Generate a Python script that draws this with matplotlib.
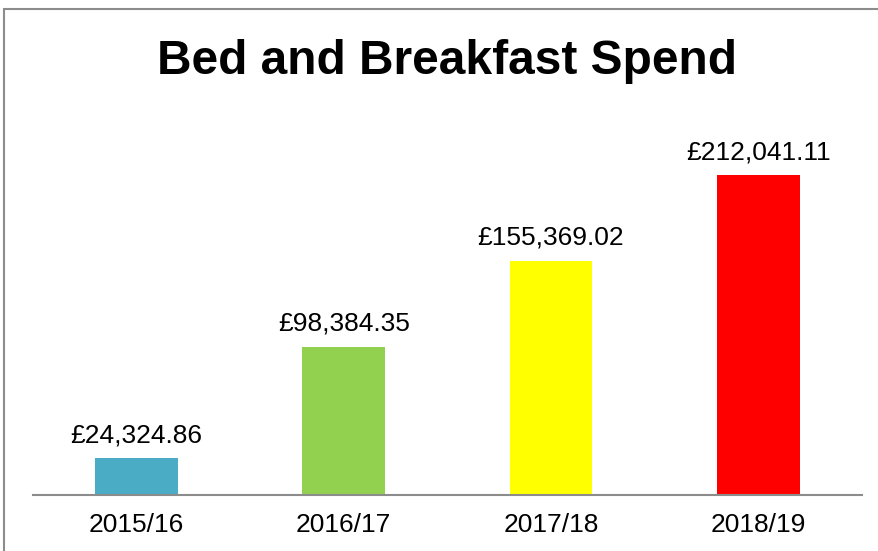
import matplotlib
matplotlib.use('Agg')
import matplotlib.pyplot as plt
from matplotlib.patches import Rectangle

years = ['2015/16', '2016/17', '2017/18', '2018/19']
spend = [24324.86, 98384.35, 155369.02, 212041.11]
colours = ['#4bacc6', '#92d050', '#ffff00', '#ff0000']

plt.rcParams['font.family'] = ['Liberation Sans', 'DejaVu Sans']

fig = plt.figure(figsize=(8.79, 5.51), dpi=100)
ax = fig.add_axes([0.0375, 0.1016, 0.943, 0.684])

x = range(len(years))
bars = ax.bar(x, spend, width=0.4, color=colours)
for b, v in zip(bars, spend):
    ax.annotate('£{:,.2f}'.format(v), (b.get_x() + b.get_width() / 2, v),
                xytext=(0, 8), textcoords='offset points',
                ha='center', va='bottom', fontsize=19)

ax.set_xlim(-0.5, 3.5)
ax.set_ylim(0, 250000)
ax.set_xticks(list(x))
ax.set_xticklabels(years, fontsize=19)
ax.tick_params(axis='x', length=0, pad=13)
ax.set_yticks([])
for s in ['top', 'right', 'left']:
    ax.spines[s].set_visible(False)
ax.spines['bottom'].set_color('#8c8c8c')
ax.spines['bottom'].set_linewidth(1.5)

fig.text(0.508, 0.888, 'Bed and Breakfast Spend', ha='center', va='center',
         fontsize=34.5, fontweight='bold')

# chart frame (partly outside the picture)
fig.patches.append(Rectangle((4.5 / 879, -0.05), 1.0, 1.0 - 8.5 / 551 + 0.05,
                             transform=fig.transFigure, fill=False,
                             edgecolor='#8c8c8c', linewidth=1.5))

fig.savefig('out.png', dpi=100)
